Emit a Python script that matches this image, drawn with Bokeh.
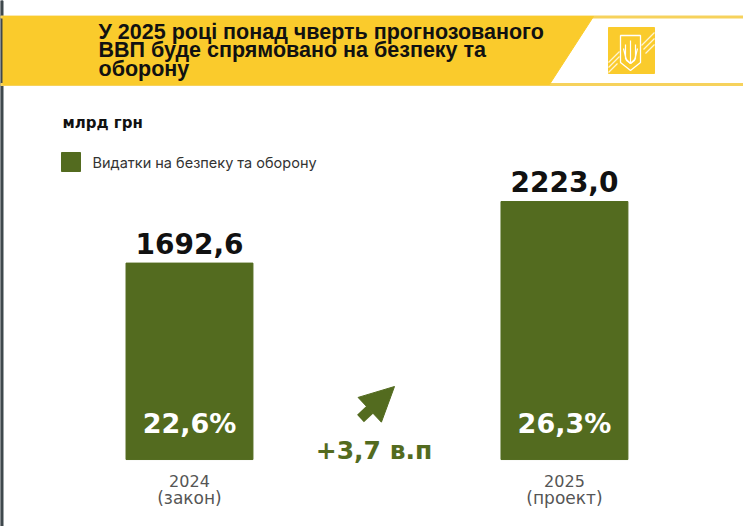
from bokeh.plotting import figure
from bokeh.models import Range1d, Arrow, NormalHead
from bokeh.core.properties import value
from bokeh.embed import file_html
from bokeh.resources import INLINE

# ---- data ----
title_lines = ["У 2025 році понад чверть прогнозованого",
               "ВВП буде спрямовано на безпеку та",
               "оборону"]
unit_label = "млрд грн"
series_name = "Видатки на безпеку та оборону"
slots = ["2024", "change", "2025"]          # x slots: two bars with the change marker between
years = ["2024", "2025"]
notes = ["(закон)", "(проект)"]
spending = [1692.6, 2223.0]                 # bn UAH
spending_labels = ["1692,6", "2223,0"]
gdp_share_labels = ["22,6%", "26,3%"]
change_label = "+3,7 в.п"

# ---- style ----
W, H = 743, 526
GREEN = "#536B1F"
YELLOW = "#FACB2C"
LINE_YELLOW = "#F6D25C"
DARK = "#3F484D"

bar_x = [slots.index(y) for y in years]
mid_x = [slots.index("change")]

p = figure(width=W, height=H, x_range=Range1d(-1.008, 2.955), y_range=Range1d(-577, 3955),
           x_axis_type=None, y_axis_type=None, output_backend="svg", toolbar_location=None,
           min_border=0, outline_line_color=None, background_fill_color="white",
           border_fill_color="white")
p.xgrid.visible = False
p.ygrid.visible = False
p.extra_x_ranges = {"px": Range1d(0, W)}
p.extra_y_ranges = {"px": Range1d(H, 0)}
PX = dict(x_range_name="px", y_range_name="px")

# left page edge
p.quad(left=0, right=2.5, top=0, bottom=H, color=DARK, **PX)
# banner frame lines
p.quad(left=0, right=W, top=15.5, bottom=17.5, color=LINE_YELLOW, **PX)
p.quad(left=0, right=W, top=83, bottom=85, color=LINE_YELLOW, **PX)
# banner yellow
p.patch(x=[2.5, 593, 549, 2.5], y=[16, 16, 84, 84], color=YELLOW, **PX)
# logo
p.quad(left=608, right=654, top=27, bottom=73, color=YELLOW, **PX)
p.multi_line(xs=[[641, 654], [643, 654], [645, 654], [608, 619], [608, 619], [608, 617]],
             ys=[[45, 32], [49, 38], [53, 44], [62, 51], [67, 56], [72, 63]],
             line_color="white", line_width=1.2, line_alpha=0.8, **PX)
p.patch(x=[620, 640, 640, 630, 620], y=[35, 35, 62, 70, 62], fill_color=YELLOW,
        line_color="white", line_width=1.3, **PX)
p.multi_line(xs=[[630, 630], [625, 625, 630], [635, 635, 630], [623, 626, 630], [637, 634, 630]],
             ys=[[40, 63], [44, 58, 63], [44, 58, 63], [48, 60, 63], [48, 60, 63]],
             line_color="white", line_width=1.2, **PX)

# title
p.text(x=[98] * 3, y=[31, 49.5, 68], text=title_lines, text_font=value("Liberation Sans"),
       text_font_style="bold", text_font_size="21.5px", text_color="#111111",
       text_baseline="middle", **PX)

# unit and legend
p.text(x=[62], y=[122], text=[unit_label], text_font=value("DejaVu Sans"), text_font_style="bold",
       text_font_size="15px", text_color="#111111", text_baseline="middle", **PX)
p.quad(left=61, right=80, top=152, bottom=171, color=GREEN, **PX)
p.text(x=[92], y=[161.5], text=[series_name], text_font=value("Inter"),
       text_font_size="14.5px", text_color="#333333", text_baseline="middle", **PX)

# bars
p.vbar(x=bar_x, top=spending, bottom=0, width=0.677, color=GREEN)
p.text(x=bar_x, y=spending, text=spending_labels, text_align="center", text_baseline="middle",
       y_offset=-20, text_font=value("DejaVu Sans"), text_font_style="bold",
       text_font_size="28px", text_color="#111111")
p.text(x=bar_x, y=[0] * len(bar_x), text=gdp_share_labels, text_align="center",
       text_baseline="middle", y_offset=-36, text_font=value("DejaVu Sans"),
       text_font_style="bold", text_font_size="27px", text_color="white")
p.text(x=bar_x, y=[0] * len(bar_x), text=years, text_align="center", text_baseline="middle",
       y_offset=21, text_font=value("DejaVu Sans"), text_font_size="16px", text_color="#555555")
p.text(x=bar_x, y=[0] * len(bar_x), text=notes, text_align="center", text_baseline="middle",
       y_offset=38, text_font=value("DejaVu Sans"), text_font_size="17px", text_color="#555555")

# change marker
p.text(x=mid_x, y=[0], text=[change_label], text_align="center", text_baseline="middle",
       x_offset=-3, y_offset=-9, text_font=value("DejaVu Sans"), text_font_style="bold",
       text_font_size="25px", text_color=GREEN)
p.add_layout(Arrow(x_start=360, y_start=418, x_end=394, y_end=386, line_color=GREEN,
                   line_width=10, end=NormalHead(size=34, fill_color=GREEN, line_color=GREEN),
                   **PX))

open("out.html", "w").write(file_html(p, INLINE))
